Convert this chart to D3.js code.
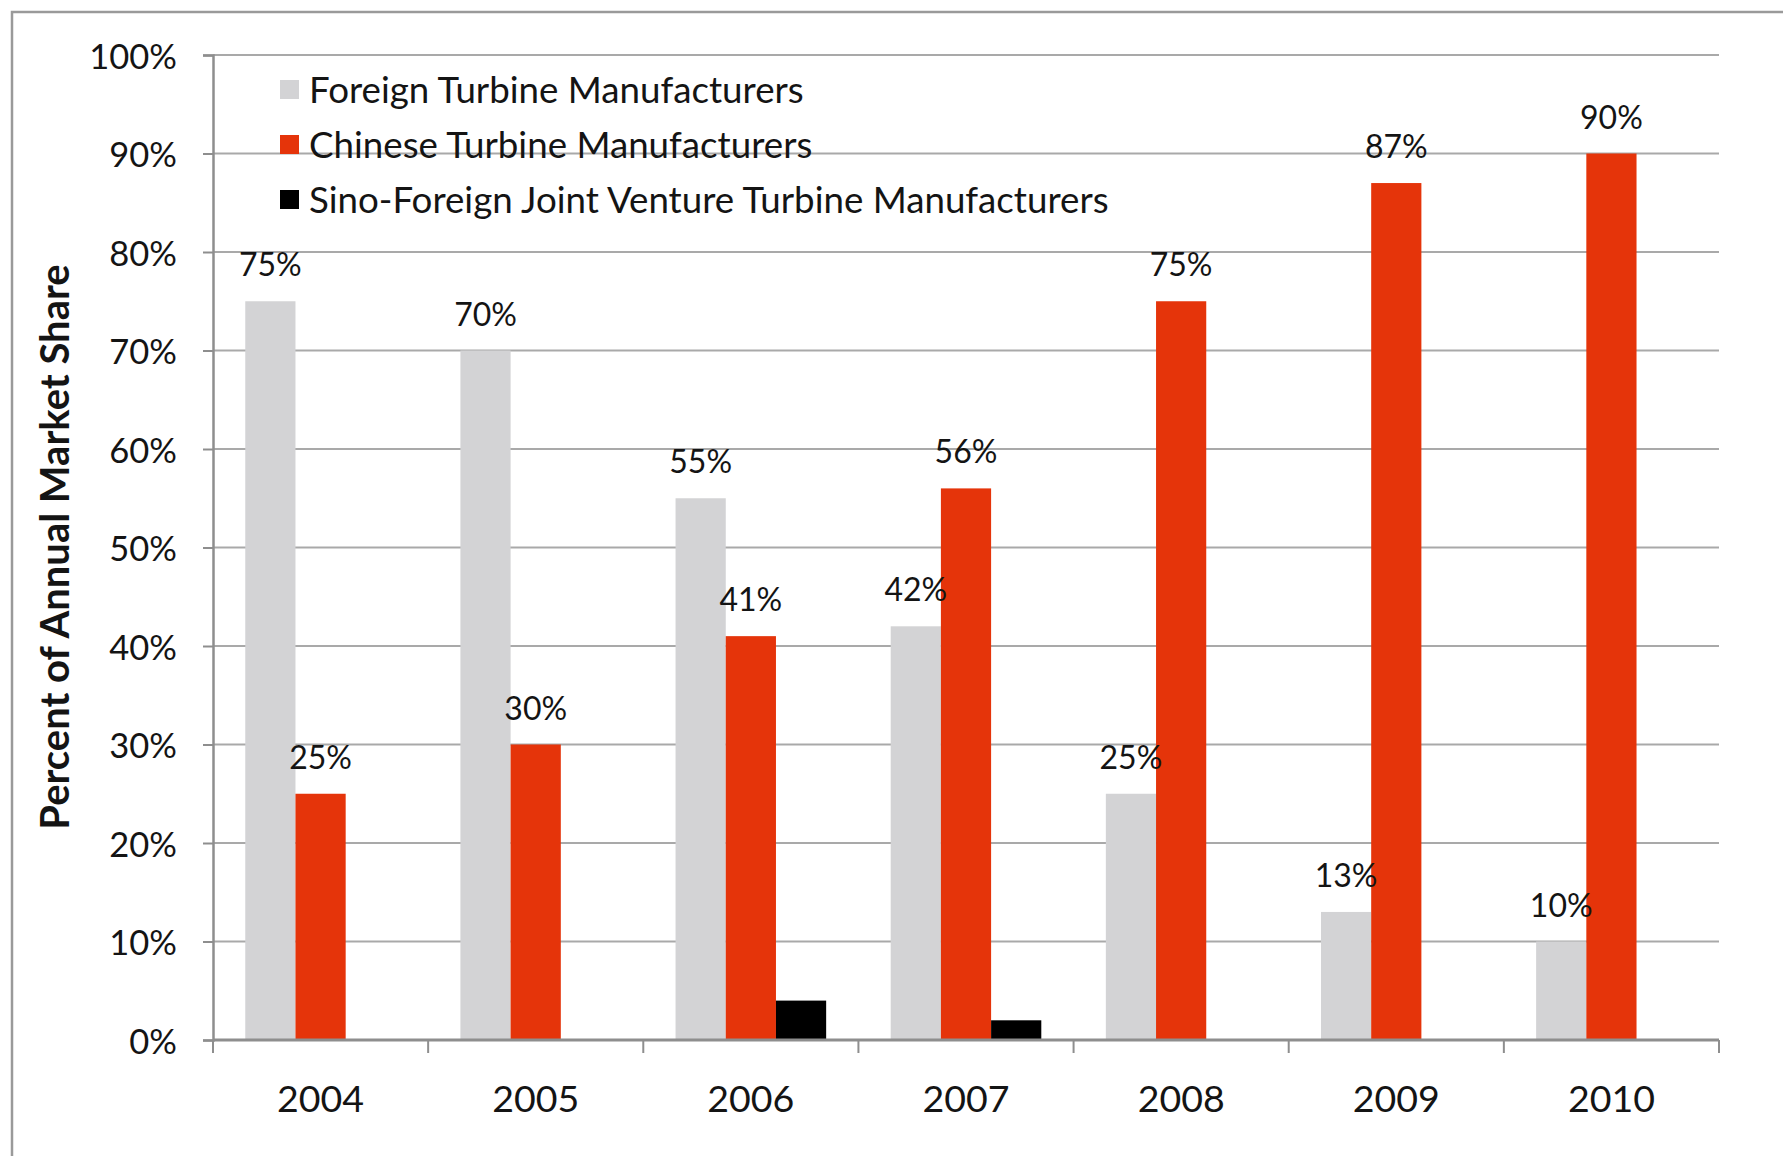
<!DOCTYPE html>
<html>
<head>
<meta charset="utf-8">
<script src="https://cdn.jsdelivr.net/npm/d3@7"></script>
<style>
  html, body { margin: 0; padding: 0; background: #fff; }
  svg text { font-family: Lato, "Open Sans", sans-serif; fill: #141414; }
</style>
</head>
<body>
<svg id="chart" width="1783" height="1156"></svg>
<script>
// Annual market share of wind turbine installations in China, by manufacturer type
const years = ["2004", "2005", "2006", "2007", "2008", "2009", "2010"];
const seriesNames = [
  "Foreign Turbine Manufacturers",
  "Chinese Turbine Manufacturers",
  "Sino-Foreign Joint Venture Turbine Manufacturers"
];
const foreignShare = [75, 70, 55, 42, 25, 13, 10];
const chineseShare = [25, 30, 41, 56, 75, 87, 90];
const jointVentureShare = [0, 0, 4, 2, 0, 0, 0];
const labelledSeries = [true, true, false];
const yTicks = [0, 10, 20, 30, 40, 50, 60, 70, 80, 90, 100];
const seriesColors = ["#d3d3d5", "#e5340a", "#000000"];

const seriesValues = [foreignShare, chineseShare, jointVentureShare];

const svg = d3.select("#chart");
const W = 1783, H = 1156;
const plot = { left: 213, right: 1719, top: 55, bottom: 1040 };

// outer frame
svg.append("rect")
  .attr("x", 12).attr("y", 12)
  .attr("width", W + 20).attr("height", H + 20)
  .attr("fill", "#fff")
  .attr("stroke", "#9a9a9a").attr("stroke-width", 2.5);

const x0 = d3.scaleBand()
  .domain(years)
  .range([plot.left, plot.right])
  .paddingInner(0.3)
  .paddingOuter(0.15);

const x1 = d3.scaleBand()
  .domain(d3.range(seriesNames.length))
  .range([0, x0.bandwidth()]);

const y = d3.scaleLinear().domain([0, 100]).range([plot.bottom, plot.top]);

// horizontal gridlines
svg.append("g")
  .selectAll("line")
  .data(yTicks.filter(t => t > 0))
  .join("line")
  .attr("x1", plot.left).attr("x2", plot.right)
  .attr("y1", d => y(d)).attr("y2", d => y(d))
  .attr("stroke", "#a9a9a9").attr("stroke-width", 2);

// y axis
const yAxis = svg.append("g")
  .attr("transform", `translate(${plot.left},0)`)
  .call(d3.axisLeft(y).tickValues(yTicks).tickFormat(d => d + "%").tickSize(10).tickPadding(26));
yAxis.select(".domain").attr("stroke", "#8e8e8e").attr("stroke-width", 2.5);
yAxis.selectAll(".tick line").attr("stroke", "#8e8e8e").attr("stroke-width", 2);
yAxis.selectAll(".tick text")
  .style("font-size", "34.5px").attr("fill", "#141414").attr("dy", "0.38em");

// bars
const groups = svg.append("g")
  .selectAll("g")
  .data(years)
  .join("g")
  .attr("transform", d => `translate(${x0(d)},0)`);

groups.selectAll("rect")
  .data((yr, i) => seriesValues.map((vals, s) => ({ s, v: vals[i] })))
  .join("rect")
  .attr("x", d => x1(d.s))
  .attr("width", x1.bandwidth())
  .attr("y", d => y(d.v))
  .attr("height", d => y(0) - y(d.v))
  .attr("fill", d => seriesColors[d.s]);

// value labels
groups.selectAll("text.val")
  .data((yr, i) => seriesValues.map((vals, s) => ({ s, v: vals[i] })).filter(d => labelledSeries[d.s] && d.v > 0))
  .join("text")
  .attr("class", "val")
  .attr("x", d => x1(d.s) + x1.bandwidth() / 2)
  .attr("y", d => y(d.v) - 25)
  .attr("text-anchor", "middle")
  .style("font-size", "32px")
  .text(d => d.v + "%");

// x axis with category boundary ticks
const step = x0.step();
const boundaries = d3.range(years.length + 1).map(i => plot.left + i * step);
svg.append("line")
  .attr("x1", plot.left).attr("x2", plot.right)
  .attr("y1", y(0)).attr("y2", y(0))
  .attr("stroke", "#8e8e8e").attr("stroke-width", 3);
svg.append("g")
  .selectAll("line")
  .data(boundaries)
  .join("line")
  .attr("x1", d => d).attr("x2", d => d)
  .attr("y1", y(0)).attr("y2", y(0) + 13)
  .attr("stroke", "#8e8e8e").attr("stroke-width", 2);
svg.append("g")
  .selectAll("text")
  .data(years)
  .join("text")
  .attr("x", d => x0(d) + x0.bandwidth() / 2)
  .attr("y", 1112)
  .attr("text-anchor", "middle")
  .style("font-size", "37.5px")
  .text(d => d);

// y axis title
svg.append("text")
  .attr("transform", "translate(69,547) rotate(-90)")
  .attr("text-anchor", "middle")
  .style("font-size", "40px")
  .style("font-weight", "bold")
  .text("Percent of Annual Market Share");

// legend
const legend = svg.append("g").attr("transform", "translate(280,90)");
const rows = legend.selectAll("g")
  .data(seriesNames)
  .join("g")
  .attr("transform", (d, i) => `translate(0,${i * 55})`);
rows.append("rect")
  .attr("x", 0).attr("y", -10)
  .attr("width", 19).attr("height", 19)
  .attr("fill", (d, i) => seriesColors[i]);
rows.append("text")
  .attr("x", 29).attr("y", 0)
  .attr("dy", "0.36em")
  .style("font-size", "36.7px")
  .text(d => d);
</script>
</body>
</html>
